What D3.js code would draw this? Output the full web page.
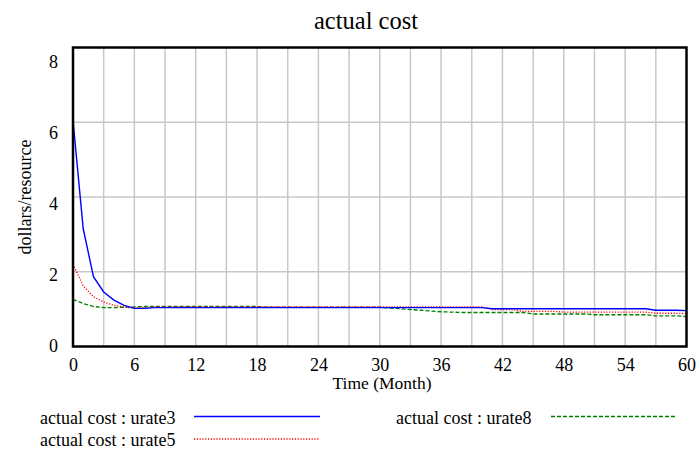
<!DOCTYPE html>
<html>
<head>
<meta charset="utf-8">
<script src="https://cdn.jsdelivr.net/npm/d3@7"></script>
<style>
  html, body { margin: 0; padding: 0; background: #fff; }
  svg { display: block; }
  svg text { font-family: "Liberation Serif", "DejaVu Serif", serif; fill: #000; }
</style>
</head>
<body>
<svg id="chart" width="699" height="450"></svg>
<script>
// ---- data ----
const months = d3.range(0, 61);
const urate3 = [6.05,3.15,1.87,1.46,1.24,1.10,1.02,1.02,1.04,1.04,
  1.04,1.04,1.04,1.04,1.04,1.04,1.04,1.04,1.04,1.04,
  1.04,1.04,1.04,1.04,1.04,1.04,1.04,1.04,1.04,1.04,
  1.04,1.04,1.04,1.04,1.04,1.04,1.04,1.04,1.04,1.04,
  1.04,1.01,1.01,1.01,1.01,1.01,1.01,1.01,1.01,1.01,
  1.01,1.01,1.01,1.01,1.01,1.01,1.01,0.97,0.97,0.97,0.96];
const urate5 = [2.20,1.62,1.33,1.19,1.10,1.05,1.03,1.04,1.06,1.06,
  1.06,1.06,1.06,1.06,1.06,1.06,1.06,1.06,1.06,1.06,
  1.06,1.06,1.06,1.06,1.06,1.06,1.06,1.06,1.06,1.06,
  1.06,1.06,1.06,1.06,1.06,1.06,1.06,1.06,1.06,1.06,
  1.06,0.99,0.99,0.99,0.94,0.94,0.94,0.94,0.92,0.92,
  0.92,0.92,0.92,0.92,0.92,0.92,0.92,0.89,0.89,0.89,0.88];
const urate8 = [1.26,1.15,1.07,1.04,1.04,1.05,1.06,1.07,1.07,1.07,
  1.07,1.07,1.07,1.07,1.07,1.07,1.07,1.07,1.07,1.05,
  1.05,1.05,1.05,1.05,1.05,1.05,1.05,1.05,1.05,1.05,
  1.05,1.03,1.01,0.99,0.97,0.95,0.93,0.92,0.91,0.91,
  0.91,0.91,0.91,0.91,0.91,0.87,0.87,0.87,0.87,0.87,
  0.87,0.85,0.85,0.85,0.85,0.85,0.85,0.82,0.82,0.82,0.80];
const xTicks = [0,6,12,18,24,30,36,42,48,54,60];
const xGrid = d3.range(0, 61, 3);
const yTicks = [0,2,4,6,8];
const yGrid = [2,4,6];
const seriesNames = ["actual cost : urate3","actual cost : urate5","actual cost : urate8"];

// ---- layout ----
const svg = d3.select("#chart");
const L = 73, R = 686.5, T = 47.5, B = 346.5;
const x = d3.scaleLinear().domain([0, 60]).range([L, R]);
const y = d3.scaleLinear().domain([0, 8]).range([B, T]);
const yLab = d3.scaleLinear().domain([0, 8]).range([351, 67.5]);

// grid
svg.append("g").selectAll("line").data(xGrid.filter(d => d > 0 && d < 60)).join("line")
  .attr("x1", d => x(d)).attr("x2", d => x(d)).attr("y1", T).attr("y2", B)
  .attr("stroke", "#c8c8c8").attr("stroke-width", 1.5);
svg.append("g").selectAll("line").data(yGrid).join("line")
  .attr("x1", L).attr("x2", R).attr("y1", d => y(d)).attr("y2", d => y(d))
  .attr("stroke", "#c8c8c8").attr("stroke-width", 1.5);

// series
const styles = [
  {data: urate3, color: "#0000ff", dash: null, w: 1.4},
  {data: urate5, color: "#ff0000", dash: "1.2,1.6", w: 1.3},
  {data: urate8, color: "#008000", dash: "4,2", w: 1.3}
];
const line = d3.line().x((d, i) => x(months[i])).y(d => y(d));
[2,1,0].forEach(k => {
  const s = styles[k];
  svg.append("path").datum(s.data).attr("d", line)
    .attr("fill", "none").attr("stroke", s.color).attr("stroke-width", s.w)
    .attr("stroke-dasharray", s.dash);
});

// border
svg.append("rect").attr("x", L).attr("y", T).attr("width", R - L).attr("height", B - T)
  .attr("fill", "none").attr("stroke", "#000").attr("stroke-width", 2.5);

// x axis labels
const xAxis = d3.axisBottom(x).tickValues(xTicks).tickSize(0).tickPadding(0);
const gx = svg.append("g").attr("transform", `translate(0,${B})`).call(xAxis)
  .attr("font-family", null).attr("font-size", null);
gx.select(".domain").remove();
gx.selectAll("text").style("font-family", '"Liberation Serif", serif').style("font-size", "18px")
  .attr("fill", "#000").attr("dy", null).attr("y", 24);

// y axis labels
const yAxis = d3.axisLeft(yLab).tickValues(yTicks).tickSize(0).tickPadding(0);
const gy = svg.append("g").attr("transform", `translate(58,0)`).call(yAxis)
  .attr("font-family", null).attr("font-size", null);
gy.select(".domain").remove();
gy.selectAll("text").style("font-family", '"Liberation Serif", serif').style("font-size", "18px")
  .attr("fill", "#000").attr("dy", null).attr("x", 0);

// titles
svg.append("text").attr("x", 366).attr("y", 29).attr("text-anchor", "middle")
  .style("font-size", "24.5px").text("actual cost");
svg.append("text").attr("x", 382).attr("y", 389).attr("text-anchor", "middle")
  .style("font-size", "17.5px").text("Time (Month)");
svg.append("text").attr("transform", "translate(31,197) rotate(-90)").attr("text-anchor", "middle")
  .style("font-size", "18px").text("dollars/resource");

// legend
const leg = [
  {k: 0, tx: 40, ty: 424, lx1: 194, lx2: 320, ly: 416.5},
  {k: 1, tx: 40, ty: 446, lx1: 194, lx2: 320, ly: 439},
  {k: 2, tx: 396, ty: 424, lx1: 551, lx2: 676, ly: 416.5}
];
leg.forEach(e => {
  const s = styles[e.k];
  svg.append("text").attr("x", e.tx).attr("y", e.ty).style("font-size", "18px").text(seriesNames[e.k]);
  svg.append("line").attr("x1", e.lx1).attr("x2", e.lx2).attr("y1", e.ly).attr("y2", e.ly)
    .attr("stroke", s.color).attr("stroke-width", s.w).attr("stroke-dasharray", s.dash);
});
</script>
</body>
</html>
